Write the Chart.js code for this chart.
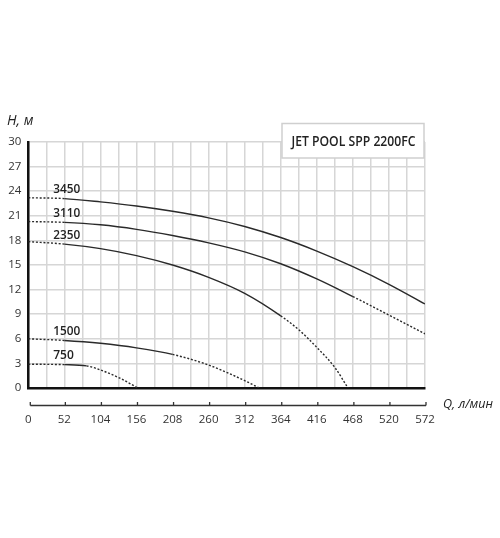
<!DOCTYPE html>
<html>
<head>
<meta charset="utf-8">
<script src="https://cdn.jsdelivr.net/npm/chart.js@4"></script>
<style>
html,body{margin:0;padding:0;background:#fff;}
canvas{display:block;}
</style>
</head>
<body>
<canvas id="c" width="500" height="538"></canvas>
<script>
// ---- data ----
const chartTitle = 'JET POOL SPP 2200FC';
const yTitle = 'H, м';
const xTitle = 'Q, л/мин';
const speeds = ['3450', '3110', '2350', '1500', '750'];

const q3450 = [0, 52, 104, 156, 208, 260, 312, 364, 416, 468, 520, 572];
const h3450 = [23.2, 23.1, 22.7, 22.2, 21.55, 20.75, 19.7, 18.35, 16.7, 14.8, 12.65, 10.25];

const q3110 = [0, 52, 104, 156, 208, 260, 312, 364, 416, 468, 520, 572];
const h3110 = [20.3, 20.2, 19.9, 19.35, 18.6, 17.7, 16.6, 15.15, 13.3, 11.15, 8.9, 6.6];

const q2350 = [0, 52, 104, 156, 208, 260, 312, 364, 390, 416, 442, 461];
const h2350 = [17.85, 17.55, 17.0, 16.15, 15.0, 13.5, 11.55, 8.8, 7.1, 4.95, 2.5, 0];

const q1500 = [0, 52, 104, 156, 208, 260, 312, 333];
const h1500 = [6.0, 5.8, 5.45, 4.9, 4.1, 2.8, 0.9, 0];

const q750 = [0, 52, 84, 104, 132, 158];
const h750 = [2.9, 2.85, 2.7, 2.2, 1.2, 0];

// flow where the measured (solid) part ends; beyond it the curve is dotted
const solidFrom = 52;
const solidTo = [572, 468, 364, 208, 84];

const xMin = 0, xMax = 572, xLabelStep = 52, xGridStep = 26;
const yMin = 0, yMax = 30, yStep = 3;

// ---- build ----
const seriesQ = [q3450, q3110, q2350, q1500, q750];
const seriesH = [h3450, h3110, h2350, h1500, h750];
const DASH = [2, 1.8];
const INK = '#2a2a2a';

const datasets = speeds.map((s, i) => ({
  label: s,
  data: seriesQ[i].map((q, k) => ({x: q, y: seriesH[i][k]})),
  borderColor: INK,
  borderWidth: 1.4,
  pointRadius: 0,
  fill: false,
  cubicInterpolationMode: 'monotone',
  segment: {
    borderDash: ctx => (ctx.p1.parsed.x <= solidFrom || ctx.p0.parsed.x >= solidTo[i]) ? DASH : undefined
  }
}));

const FONT = "'Open Sans', 'DejaVu Sans', sans-serif";

const extras = {
  id: 'extras',
  afterDraw(chart) {
    const ctx = chart.ctx;
    const xs = chart.scales.x, ys = chart.scales.y;
    ctx.save();
    // lower flow axis line with upward tick marks
    const yb = 405.5;
    ctx.strokeStyle = '#333';
    ctx.lineWidth = 1.3;
    ctx.beginPath();
    ctx.moveTo(xs.getPixelForValue(xMin) + 2, yb);
    ctx.lineTo(xs.getPixelForValue(xMax) + 1, yb);
    for (let v = xMin; v <= xMax; v += xLabelStep) {
      const px = xs.getPixelForValue(v) + (v === xMin ? 2 : 1);
      ctx.moveTo(px, yb);
      ctx.lineTo(px, yb - 3.5);
    }
    ctx.stroke();

    // axis titles
    ctx.fillStyle = '#222';
    ctx.font = "italic 14px " + FONT;
    ctx.textBaseline = 'middle';
    ctx.textAlign = 'left';
    ctx.fillText(yTitle, 7, 121);
    ctx.font = "italic 13.5px " + FONT;
    ctx.fillText(xTitle, 443, 404, 50);

    // speed labels
    ctx.font = "600 12px " + FONT;
    ctx.fillStyle = '#222';
    speeds.forEach((s, i) => {
      const px = xs.getPixelForValue(36);
      const py = ys.getPixelForValue(seriesH[i][1]) - 9;
      ctx.fillText(s, px, py, 27);
    });

    // title box
    ctx.fillStyle = '#fff';
    ctx.fillRect(282, 123.5, 142, 34.5);
    ctx.strokeStyle = '#cfcfcf';
    ctx.lineWidth = 1.5;
    ctx.strokeRect(282, 123.5, 142, 34.5);
    ctx.fillStyle = '#222';
    ctx.font = "600 14.5px " + FONT;
    ctx.textAlign = 'center';
    ctx.fillText(chartTitle, 353.5, 141.5, 124);
    ctx.restore();
  }
};

new Chart(document.getElementById('c'), {
  type: 'line',
  data: {datasets},
  options: {
    responsive: false,
    animation: false,
    layout: {padding: {top: 142, right: 75, left: 0, bottom: 0}},
    plugins: {legend: {display: false}, tooltip: {enabled: false}},
    scales: {
      x: {
        type: 'linear',
        min: xMin, max: xMax,
        afterFit: s => { s.height = 150; },
        afterBuildTicks: s => {
          const t = [];
          for (let v = xMin; v <= xMax; v += xGridStep) t.push({value: v});
          s.ticks = t;
        },
        ticks: {
          autoSkip: false, maxRotation: 0, padding: 25,
          color: '#333', font: {size: 11.5, family: FONT},
          callback: v => (v % xLabelStep === 0 ? String(v) : '')
        },
        grid: {color: '#d6d6d6', lineWidth: 1.5, drawTicks: false},
        border: {color: '#111', width: 2.5}
      },
      y: {
        min: yMin, max: yMax,
        afterFit: s => { s.width = 24.5; },
        ticks: {stepSize: yStep, padding: 7, color: '#333', font: {size: 11.5, family: FONT}},
        grid: {color: '#d6d6d6', lineWidth: 1.5, drawTicks: false},
        border: {color: '#111', width: 2.5}
      }
    }
  },
  plugins: [extras]
});
</script>
</body>
</html>
